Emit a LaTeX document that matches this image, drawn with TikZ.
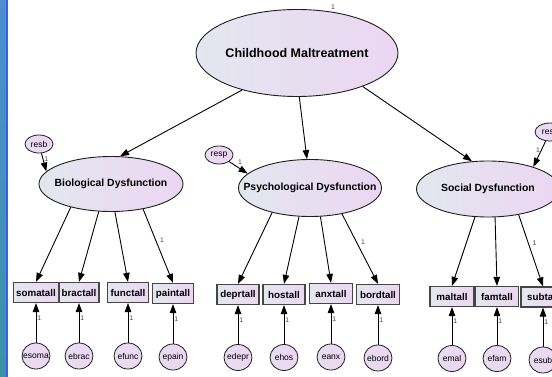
\documentclass[tikz,border=0pt]{standalone}
\usepackage{fontspec}
\setmainfont{Liberation Sans}
\usepackage{xcolor}
\definecolor{semblue}{RGB}{227,231,239}
\definecolor{sempink}{RGB}{236,214,242}
\definecolor{semedge}{RGB}{30,30,30}
\definecolor{boxedge}{RGB}{70,70,70}
\definecolor{barblue}{RGB}{78,142,210}
\definecolor{barteal}{RGB}{58,146,166}
\definecolor{barline}{RGB}{47,99,240}
\usepackage{tikz}
\usetikzlibrary{arrows.meta, shapes.geometric}

% text that does not widen its ellipse
\newcommand{\nowidth}[1]{\makebox[0pt]{#1}}

\tikzset{
  latent/.style={ellipse, draw=semedge, line width=0.9pt, left color=semblue, right color=sempink,
                 inner sep=0pt, font=\fontsize{10.4}{12}\selectfont\bfseries},
  resid/.style={ellipse, draw=semedge, line width=0.8pt, left color=semblue!40!sempink, right color=sempink,
                inner sep=0pt, minimum width=28pt, minimum height=18pt, font=\fontsize{8.5}{10}\selectfont},
  errc/.style={resid, minimum height=26pt},
  obsbox/.style={rectangle, draw=boxedge, line width=1.2pt, left color=semblue, right color=sempink,
                 inner xsep=2.5pt, inner ysep=0pt, minimum width=42pt, minimum height=20pt,
                 font=\fontsize{9.8}{11}\selectfont\bfseries},
  arr/.style={draw=black, line width=0.9pt, -{Triangle[length=9pt,width=6.5pt]}},
  lbl/.style={font=\fontsize{6.8}{8}\selectfont, text=black!75, inner sep=1pt},
}

\begin{document}
\begin{tikzpicture}[x=1pt, y=-1pt]
\useasboundingbox (0,0) rectangle (552,377);
\clip (0,0) rectangle (552,377);

% === Window edge ===
\shade[top color=barblue, bottom color=barteal] (0,0) rectangle (6,377);
\fill[barline] (6,0) rectangle (7.5,377);

% === Latent variables ===
\node[latent, minimum width=202pt, minimum height=87pt, font=\fontsize{12.5}{14}\selectfont\bfseries]
     (cm) at (297,53) {\nowidth{Childhood Maltreatment}};
\node[lbl] (cmvar) at (333,7) {1};

\node[latent, minimum width=144pt, minimum height=55pt] (bio) at (111,184) {\nowidth{Biological Dysfunction}};
\node[latent, minimum width=143pt, minimum height=57pt] (psy) at (310,188) {\nowidth{Psychological Dysfunction}};
\node[latent, minimum width=143pt, minimum height=56pt] (soc) at (488,189) {\nowidth{Social Dysfunction}};

% === Residuals ===
\node[resid] (resb) at (39,144) {\nowidth{resb}};
\node[resid] (resp) at (219,155) {\nowidth{resp}};
\node[resid, minimum width=30pt] (ress) at (550,132) {\nowidth{ress}};

\draw[arr] (cm.214) -- (bio.72);
\draw[arr] (cm.273) -- (psy.96);
\draw[arr] (cm.333) -- (soc.120);

\draw[arr] (resb) -- (bio.169) node[lbl, pos=0.3, right] {1};
\draw[arr] (resp) -- (psy.167) node[lbl, pos=0.4, above right] {1};
\draw[arr] (ress) -- (soc.26) node[lbl, pos=0.35, left] {1};

% === Biological indicators ===
\node[obsbox] (somatall) at (36,292.5) {somatall};
\node[obsbox, minimum width=36pt] (bractall) at (79,292.5) {bractall};
\node[obsbox, minimum width=41pt] (functall) at (128,292.5) {functall};
\node[obsbox, minimum width=41pt] (paintall) at (173,293.5) {paintall};

\node[errc] (esoma) at (36,356) {\nowidth{esoma}};
\node[errc] (ebrac) at (79,356) {\nowidth{ebrac}};
\node[errc] (efunc) at (128,356) {\nowidth{efunc}};
\node[errc] (epain) at (173,357) {\nowidth{epain}};

\draw[arr] (bio.210) -- (somatall.north);
\draw[arr] (bio.246) -- (bractall.north);
\draw[arr] (bio.278) -- (functall.north);
\draw[arr] (bio.322) -- (paintall.north) node[lbl, pos=0.42, right=3pt] {1};

\draw[arr] (esoma) -- (somatall) node[lbl, pos=0.62, right] {1};
\draw[arr] (ebrac) -- (bractall) node[lbl, pos=0.62, right] {1};
\draw[arr] (efunc) -- (functall) node[lbl, pos=0.62, right] {1};
\draw[arr] (epain) -- (paintall) node[lbl, pos=0.62, right] {1};

% === Psychological indicators ===
\node[obsbox] (deprtall) at (238,294.5) {deprtall};
\node[obsbox] (hostall) at (284,294.5) {hostall};
\node[obsbox, minimum width=43pt] (anxtall) at (331,293.5) {anxtall};
\node[obsbox, minimum width=43pt] (bordtall) at (378,294.5) {bordtall};

\node[errc] (edepr) at (238,357.5) {\nowidth{edepr}};
\node[errc] (ehos) at (284,357.5) {\nowidth{ehos}};
\node[errc] (eanx) at (331,357) {\nowidth{eanx}};
\node[errc] (ebord) at (378,358) {\nowidth{ebord}};

\draw[arr] (psy.213) -- (deprtall.north);
\draw[arr] (psy.249) -- (hostall.north);
\draw[arr] (psy.290) -- (anxtall.north);
\draw[arr] (psy.321) -- (bordtall.north) node[lbl, pos=0.41, right=3pt] {1};

\draw[arr] (edepr) -- (deprtall) node[lbl, pos=0.62, right] {1};
\draw[arr] (ehos) -- (hostall) node[lbl, pos=0.62, right] {1};
\draw[arr] (eanx) -- (anxtall) node[lbl, pos=0.62, right] {1};
\draw[arr] (ebord) -- (bordtall) node[lbl, pos=0.62, right] {1};

% === Social indicators ===
\node[obsbox, minimum width=44pt] (maltall) at (452,296.5) {maltall};
\node[obsbox, minimum width=43pt] (famtall) at (497,296.5) {famtall};
\node[obsbox, minimum width=44pt] (subtall) at (543,297) {subtall};

\node[errc] (emal) at (452,358.5) {\nowidth{emal}};
\node[errc] (efam) at (497,358.5) {\nowidth{efam}};
\node[errc] (esub) at (543,360) {\nowidth{esub}};

\draw[arr] (soc.245) -- (maltall.north);
\draw[arr] (soc.284) -- (famtall.north);
\draw[arr] (soc.320) -- (subtall.north) node[lbl, pos=0.39, right=3pt] {1};

\draw[arr] (emal) -- (maltall) node[lbl, pos=0.62, right] {1};
\draw[arr] (efam) -- (famtall) node[lbl, pos=0.62, right] {1};
\draw[arr] (esub) -- (subtall) node[lbl, pos=0.62, right] {1};

\end{tikzpicture}
\end{document}
